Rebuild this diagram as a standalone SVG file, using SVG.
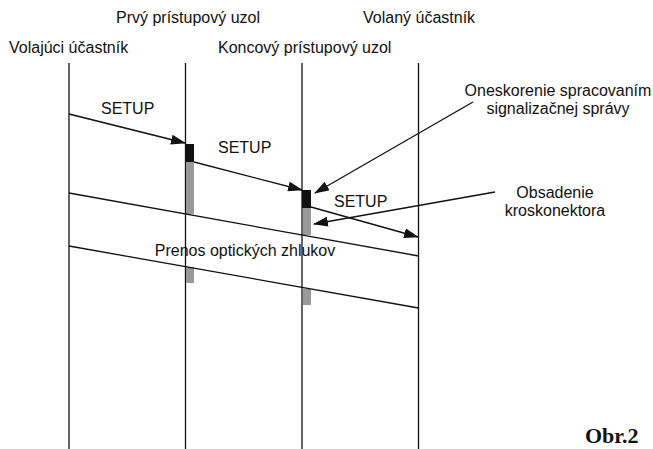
<svg xmlns="http://www.w3.org/2000/svg" width="653" height="449" viewBox="0 0 653 449">
<style>
text{font-family:"Liberation Sans",Arial,sans-serif;font-size:16px;fill:#111}
.su{font-size:16px}
.ln{stroke:#111;stroke-width:1.3;fill:none}
.ar{stroke:#111;stroke-width:1.3;fill:none;marker-end:url(#ah)}
.blk{fill:#111}
.gry{fill:#999}
</style>
<defs>
<marker id="ah" markerWidth="15" markerHeight="10" refX="14" refY="5" orient="auto" markerUnits="userSpaceOnUse">
<path d="M0,0 L15,5 L0,10 Z" fill="#111"/>
</marker>
</defs>
<rect width="653" height="449" fill="#fff"/>
<g id="lifelines">
<g id="volajuci"><line class="ln" x1="69" y1="63" x2="69" y2="449"/><text x="9" y="53">Volajúci účastník</text></g>
<g id="prvy"><line class="ln" x1="185.5" y1="63" x2="185.5" y2="449"/><text x="116" y="23">Prvý prístupový uzol</text></g>
<g id="koncovy"><line class="ln" x1="302" y1="63" x2="302" y2="449"/><text x="218" y="53">Koncový prístupový uzol</text></g>
<g id="volany"><line class="ln" x1="418.5" y1="63" x2="418.5" y2="449"/><text x="363" y="23">Volaný účastník</text></g>
</g>
<g id="bars">
<rect class="blk" x="185" y="144" width="9" height="18"/>
<rect class="gry" x="186" y="162" width="8" height="52"/>
<rect class="gry" x="186" y="267" width="8" height="16"/>
<rect class="blk" x="302" y="190" width="9" height="18"/>
<rect class="gry" x="303" y="208" width="8" height="27"/>
<rect class="gry" x="303" y="289" width="8" height="16"/>
</g>
<g id="band">
<line class="ln" x1="69" y1="193" x2="418.5" y2="256"/>
<line class="ln" x1="69" y1="246" x2="418.5" y2="308"/>
<text x="245" y="256" text-anchor="middle">Prenos optických zhlukov</text>
</g>
<g id="connectors">
<line class="ar" x1="69" y1="114" x2="185" y2="143"/>
<line class="ar" x1="194" y1="162" x2="302" y2="190"/>
<line class="ar" x1="311" y1="207" x2="418" y2="237"/>
<line class="ar" x1="473" y1="102" x2="315" y2="193"/>
<line class="ar" x1="495" y1="192" x2="314" y2="224"/>
</g>
<g id="labels">
<text class="su" x="101" y="114">SETUP</text>
<text class="su" x="218" y="153">SETUP</text>
<text class="su" x="334" y="207">SETUP</text>
<text x="558" y="96" text-anchor="middle">Oneskorenie spracovaním</text>
<text x="558" y="114" text-anchor="middle">signalizačnej správy</text>
<text x="555" y="198" text-anchor="middle">Obsadenie</text>
<text x="555" y="216" text-anchor="middle">kroskonektora</text>
<text x="585" y="443" style="font-family:'Liberation Serif',serif;font-weight:bold;font-size:22px">Obr.2</text>
</g>
</svg>
